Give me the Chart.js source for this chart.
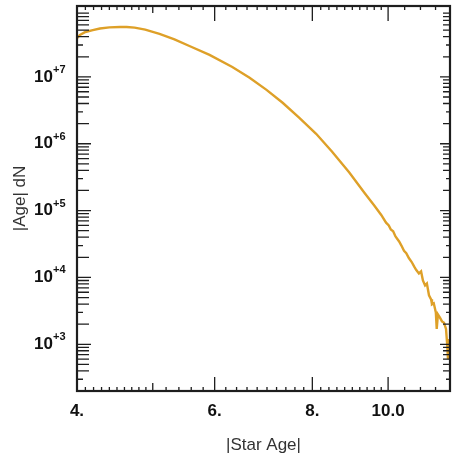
<!DOCTYPE html>
<html>
<head>
<meta charset="utf-8">
<script src="https://cdn.jsdelivr.net/npm/chart.js@4/dist/chart.umd.min.js"></script>
<style>
  html, body { margin: 0; padding: 0; background: #fff; }
  canvas { display: block; }
</style>
</head>
<body>
<canvas id="age-chart" width="456" height="465"></canvas>
<script>
// ─── Data ───────────────────────────────────────────────────────────────────

const starAge = [
  4.00, 4.035, 4.10, 4.19, 4.28, 4.40, 4.54, 4.63, 4.74, 4.89,
  5.10, 5.33, 5.57, 5.91, 6.32, 6.65, 6.99, 7.33, 7.70, 8.09,
  8.48, 8.92, 9.32, 9.60, 9.80, 9.94, 10.02, 10.08, 10.15, 10.22,
  10.33, 10.40, 10.48, 10.55, 10.63, 10.72, 10.80, 10.86, 10.95, 11.02,
  11.08, 11.15, 11.21, 11.28, 11.35, 11.38, 11.44, 11.51, 11.54, 11.58,
  11.65, 11.72, 11.79, 11.86, 11.90, 11.93, 11.97, 12.0,
];

const ageCounts = [
  3.8e7, 4.25e7, 4.7e7, 5.0e7, 5.3e7, 5.5e7, 5.57e7, 5.57e7, 5.45e7, 5.1e7,
  4.4e7, 3.65e7, 2.9e7, 2.13e7, 1.41e7, 9.7e6, 6.4e6, 4.1e6, 2.44e6, 1.41e6,
  7.6e5, 3.7e5, 1.86e5, 1.19e5, 8.6e4, 6.6e4, 6.0e4, 5.2e4, 4.9e4, 4.1e4,
  3.45e4, 3.0e4, 2.5e4, 2.3e4, 1.95e4, 1.7e4, 1.45e4, 1.3e4, 1.15e4, 1.23e4,
  9.0e3, 7.6e3, 8.1e3, 5.4e3, 4.7e3, 3.95e3, 4.1e3, 3.0e3, 1.7e3, 2.8e3,
  2.5e3, 2.2e3, 2.1e3, 1.7e3, 1.0e3, 600, 1.2e3, 700,
];

const xMajorTicks = [4, 6, 8, 10];
const xMajorLabels = ["4.", "6.", "8.", "10.0"];
const xMediumTicks = [5];
const xMinorTicks = [
  4.1, 4.2, 4.3, 4.4, 4.5, 4.6, 4.7, 4.8, 4.9,
  5.2, 5.4, 5.6, 5.8,
  6.2, 6.4, 6.6, 6.8, 7.0, 7.2, 7.4, 7.6, 7.8,
  8.2, 8.4, 8.6, 8.8, 9.0, 9.2, 9.4, 9.6, 9.8,
  10.5, 11, 11.5,
];

const yMajorTicks = [1e3, 1e4, 1e5, 1e6, 1e7];
const yMajorBase = ["10", "10", "10", "10", "10"];
const yMajorExp = ["+3", "+4", "+5", "+6", "+7"];

// ─── Axis helpers ────────────────────────────────────────────────────────────

const X_MIN = 4, X_MAX = 12;
const Y_MIN = 200, Y_MAX = 1.15e8;

function yMinorTicks() {
  const out = [];
  for (let e = 2; e <= 8; e++) {
    for (let m = 2; m <= 9; m++) {
      const v = m * Math.pow(10, e);
      if (v > Y_MIN && v < Y_MAX) out.push(v);
    }
  }
  return out;
}

const near = (a, b) => Math.abs(a - b) < 1e-6 * Math.max(1, Math.abs(b));

function xTickLen(v) {
  if (xMajorTicks.some((t) => near(t, v))) return [15, 14];
  if (xMediumTicks.some((t) => near(t, v))) return [7, 8];
  return [4, 4];
}

function yTickLen(v) {
  if (yMajorTicks.some((t) => near(t, v))) return [14, 10];
  const mant = Math.round(v / Math.pow(10, Math.floor(Math.log10(v) + 1e-9)));
  if (mant === 3) return [6, 4];
  return [12, 7];
}

const FONT = "'Liberation Sans', Arial, sans-serif";
const labelFont = { family: FONT, size: 17, weight: "bold" };
const titleFont = { family: FONT, size: 17, weight: "normal" };

// ─── Inward tick marks, frame, exponent superscripts ────────────────────────

const frameTicks = {
  id: "frameTicks",
  afterDatasetsDraw(chart) {
    const { ctx, chartArea: a, scales } = chart;
    ctx.save();
    ctx.strokeStyle = "#1e1e1e";
    ctx.lineWidth = 1.3;
    ctx.beginPath();
    scales.x.ticks.forEach((t) => {
      const px = scales.x.getPixelForValue(t.value);
      const [top, bottom] = xTickLen(t.value);
      ctx.moveTo(px, a.bottom);
      ctx.lineTo(px, a.bottom - bottom);
      ctx.moveTo(px, a.top);
      ctx.lineTo(px, a.top + top);
    });
    scales.y.ticks.forEach((t) => {
      const py = scales.y.getPixelForValue(t.value);
      const [left, right] = yTickLen(t.value);
      ctx.moveTo(a.left, py);
      ctx.lineTo(a.left + left, py);
      ctx.moveTo(a.right, py);
      ctx.lineTo(a.right - right, py);
    });
    ctx.stroke();
    ctx.lineWidth = 2.2;
    ctx.strokeRect(a.left, a.top, a.right - a.left, a.bottom - a.top);

    // "+N" exponents next to the "10" tick labels
    ctx.fillStyle = "#111";
    ctx.font = `bold 11px ${FONT}`;
    ctx.textAlign = "left";
    ctx.textBaseline = "middle";
    yMajorTicks.forEach((v, i) => {
      const py = scales.y.getPixelForValue(v);
      ctx.fillText(yMajorExp[i], a.left - 24, py - 7);
    });
    ctx.restore();
  },
};

// ─── Chart ───────────────────────────────────────────────────────────────────

const ctx = document.getElementById("age-chart").getContext("2d");

new Chart(ctx, {
  type: "line",
  data: {
    datasets: [
      {
        data: starAge.map((x, i) => ({ x, y: ageCounts[i] })),
        borderColor: "rgb(222,160,40)",
        borderWidth: 2.4,
        pointRadius: 0,
        tension: 0,
        fill: false,
      },
    ],
  },
  options: {
    responsive: false,
    animation: false,
    devicePixelRatio: 1,
    layout: { padding: { top: 6, right: 6, left: 0, bottom: 0 } },
    plugins: { legend: { display: false }, tooltip: { enabled: false } },
    scales: {
      x: {
        type: "logarithmic",
        min: X_MIN,
        max: X_MAX,
        afterFit: (s) => {
          s.height = 74;
          s.paddingLeft = 0;
          s.paddingRight = 0;
        },
        afterBuildTicks: (s) => {
          s.ticks = [...xMajorTicks, ...xMediumTicks, ...xMinorTicks]
            .sort((a, b) => a - b)
            .map((value) => ({ value }));
        },
        grid: { display: false, drawTicks: false },
        border: { display: false },
        ticks: {
          autoSkip: false,
          maxRotation: 0,
          padding: 10,
          color: "#111",
          font: labelFont,
          callback: (v) => {
            const i = xMajorTicks.findIndex((t) => near(t, v));
            return i >= 0 ? xMajorLabels[i] : "";
          },
        },
        title: {
          display: true,
          text: "|Star Age|",
          color: "#333",
          font: titleFont,
          padding: { top: 0, bottom: 9 },
        },
      },
      y: {
        type: "logarithmic",
        min: Y_MIN,
        max: Y_MAX,
        afterFit: (s) => {
          s.width = 77;
          s.paddingTop = 0;
          s.paddingBottom = 0;
        },
        afterBuildTicks: (s) => {
          s.ticks = [...yMajorTicks, ...yMinorTicks()]
            .sort((a, b) => a - b)
            .map((value) => ({ value }));
        },
        grid: { display: false, drawTicks: false },
        border: { display: false },
        ticks: {
          autoSkip: false,
          padding: 24,
          color: "#111",
          font: labelFont,
          callback: (v) => {
            const i = yMajorTicks.findIndex((t) => near(t, v));
            return i >= 0 ? yMajorBase[i] : "";
          },
        },
        title: {
          display: true,
          text: "|Age| dN",
          color: "#333",
          font: titleFont,
          padding: { top: 10, bottom: 0 },
        },
      },
    },
  },
  plugins: [frameTicks],
});
</script>
</body>
</html>
